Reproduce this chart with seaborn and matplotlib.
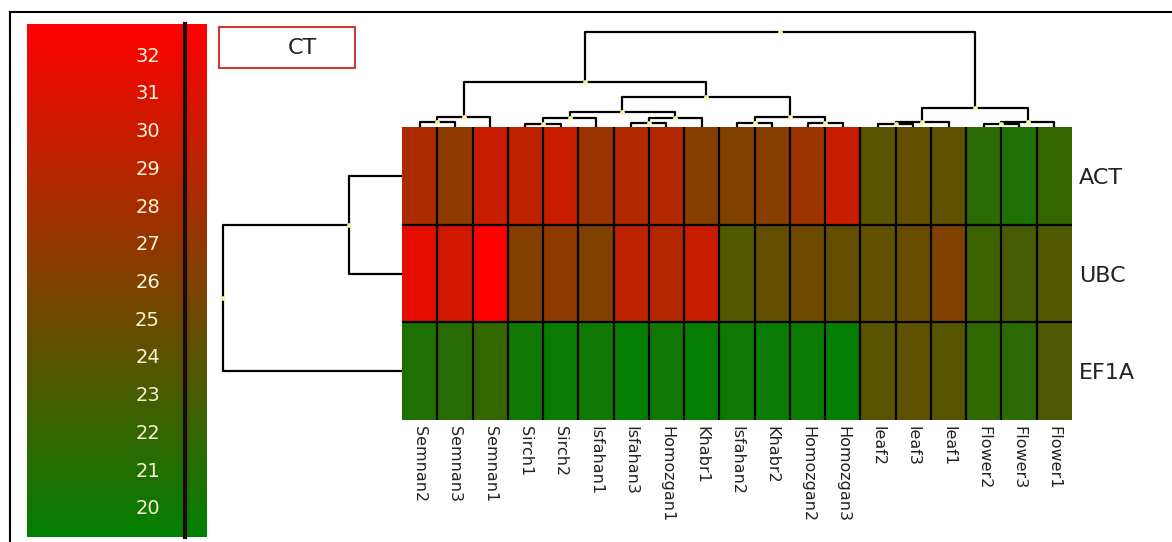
import numpy as np
import pandas as pd
import matplotlib
matplotlib.use("Agg")
import matplotlib.pyplot as plt
import seaborn as sns
from matplotlib.colors import LinearSegmentedColormap
from matplotlib.ticker import MultipleLocator
from matplotlib.patches import Rectangle

# ---- data ----
samples = ["Semnan2", "Semnan3", "Semnan1", "Sirch1", "Sirch2", "Isfahan1",
           "Isfahan3", "Homozgan1", "Khabr1", "Isfahan2", "Khabr2",
           "Homozgan2", "Homozgan3", "leaf2", "leaf3", "leaf1",
           "Flower2", "Flower3", "Flower1"]
genes = ["ACT", "UBC", "EF1A"]

act = [28.3, 26.7, 29.8, 29.3, 29.8, 27.4, 28.5, 28.8, 26.4, 26.0,
       26.4, 27.5, 29.8, 24.0, 24.5, 24.2, 21.4, 20.8, 22.0]
ubc = [31.4, 30.4, 32.8, 26.2, 26.7, 26.0, 29.3, 28.8, 29.8, 23.5,
       24.5, 25.0, 24.5, 24.3, 24.8, 26.0, 22.4, 23.0, 23.5]
ef1a = [20.8, 21.3, 22.0, 20.0, 19.7, 20.0, 19.5, 20.0, 19.5, 20.0,
        19.7, 19.8, 19.5, 24.0, 24.2, 23.8, 21.8, 21.5, 23.3]

# dendrograms: (height, left, right), leaves are column / row indices
col_tree = (95,
            (45,
             (10, (5, 0, 1), 2),
             (30,
              (15, (9, (3, 3, 4), 5), (9, (4, 6, 7), 8)),
              (10, (4, 9, 10), (4, 11, 12)))),
            (19, (5, (3, 13, 14), 15), (5, (3, 16, 17), 18)))
row_tree = (179, (53, 0, 1), 2)

cbar_ticks = list(range(20, 33))
vmin, vmax = 19.2, 32.8

W, H = 1172, 542

sns.set_style("white")
plt.rcParams["font.family"] = ["DejaVu Sans"]

fig = plt.figure(figsize=(W / 100, H / 100), dpi=100)


def px(x0, y0, x1, y1):
    # pixel box (top-left origin) -> figure fraction
    return [x0 / W, 1 - y1 / H, (x1 - x0) / W, (y1 - y0) / H]


# heatmap
ax = fig.add_axes(px(402, 127, 1072, 420))
cax = fig.add_axes(px(27, 24, 207, 537))
df = pd.DataFrame([act, ubc, ef1a], index=genes, columns=samples)
cmap = LinearSegmentedColormap.from_list("ct", ["#008000", "#804000", "#ff0000"])
sns.heatmap(df, ax=ax, cmap=cmap, vmin=vmin, vmax=vmax, linewidths=0,
            cbar_ax=cax)
n_col, n_row = len(samples), len(genes)
ax.vlines(np.arange(1, n_col), 0, n_row, color="black", lw=1.6)
ax.hlines(np.arange(1, n_row), 0, n_col, color="black", lw=1.6)

ax.set_xticks(np.arange(n_col) + 0.5)
ax.set_xticklabels(samples, rotation=270, ha="center", va="top",
                   fontsize=11.5, color="#222222")
ax.tick_params(axis="x", length=0, pad=4)
ax.yaxis.tick_right()
ax.set_yticks(np.arange(n_row) + 0.5)
ax.set_yticklabels(genes, rotation=0, fontsize=16, color="#222222")
ax.tick_params(axis="y", length=0, pad=5)
ax.set_xlabel("")
ax.set_ylabel("")

# colour bar
cb = ax.collections[0].colorbar
cb.outline.set_visible(False)
cb.set_ticks([])

tax = fig.add_axes(px(185, 24, 207, 537))
tax.patch.set_alpha(0)
tax.set_ylim(vmin, vmax)
tax.set_xlim(0, 1)
tax.set_xticks([])
for s in ["top", "right", "bottom"]:
    tax.spines[s].set_visible(False)
tax.spines["left"].set_color("#1a0a00")
tax.spines["left"].set_linewidth(3)
tax.set_yticks(cbar_ticks)
tax.yaxis.set_minor_locator(MultipleLocator(0.2))
tax.tick_params(axis="y", which="major", direction="out", length=8, width=1,
                color="#f3dcc8", labelcolor="#fbf2d6", labelsize=14, pad=10)
tax.tick_params(axis="y", which="minor", direction="out", length=4, width=1,
                color="#f3dcc8")


def draw(tree, dax, horiz, nodes):
    if isinstance(tree, int):
        return tree + 0.5, 0
    h, left, right = tree
    xl, hl = draw(left, dax, horiz, nodes)
    xr, hr = draw(right, dax, horiz, nodes)
    xs = [xl, xl, xr, xr]
    ys = [hl, h, h, hr]
    if horiz:
        dax.plot(ys, xs, color="black", lw=1.6, clip_on=False, solid_capstyle="butt")
    else:
        dax.plot(xs, ys, color="black", lw=1.6, clip_on=False, solid_capstyle="butt")
    x = (xl + xr) / 2
    nodes.append((x, h))
    return x, h


# column dendrogram
dax = fig.add_axes(px(402, 22, 1072, 127))
dax.set_xlim(0, n_col)
dax.set_ylim(0, 105)
dax.axis("off")
nodes = []
draw(col_tree, dax, False, nodes)
nx, nh = zip(*nodes)
dax.scatter(nx, nh, s=12, color="#f6f6a0", zorder=3, clip_on=False, lw=0)

# row dendrogram
rax = fig.add_axes(px(212, 127, 402, 420))
rax.set_xlim(190, 0)
rax.set_ylim(n_row, 0)
rax.axis("off")
nodes = []
draw(row_tree, rax, True, nodes)
ny, nh = zip(*nodes)
rax.scatter(nh, ny, s=12, color="#f6f6a0", zorder=3, clip_on=False, lw=0)

# frame and CT box
fig.add_artist(Rectangle((10 / W, -0.1), 1.2, 1 - 12 / H + 0.1,
                         transform=fig.transFigure, fill=False,
                         ec="black", lw=1.5))
fig.add_artist(Rectangle((219 / W, 1 - 68 / H), 136 / W, 41 / H,
                         transform=fig.transFigure, fill=False,
                         ec="#cc3a3a", lw=1.5))
fig.text(302 / W, 1 - 48 / H, "CT", ha="center", va="center",
         fontsize=16, color="#222222")

fig.savefig("out.png", dpi=100)
